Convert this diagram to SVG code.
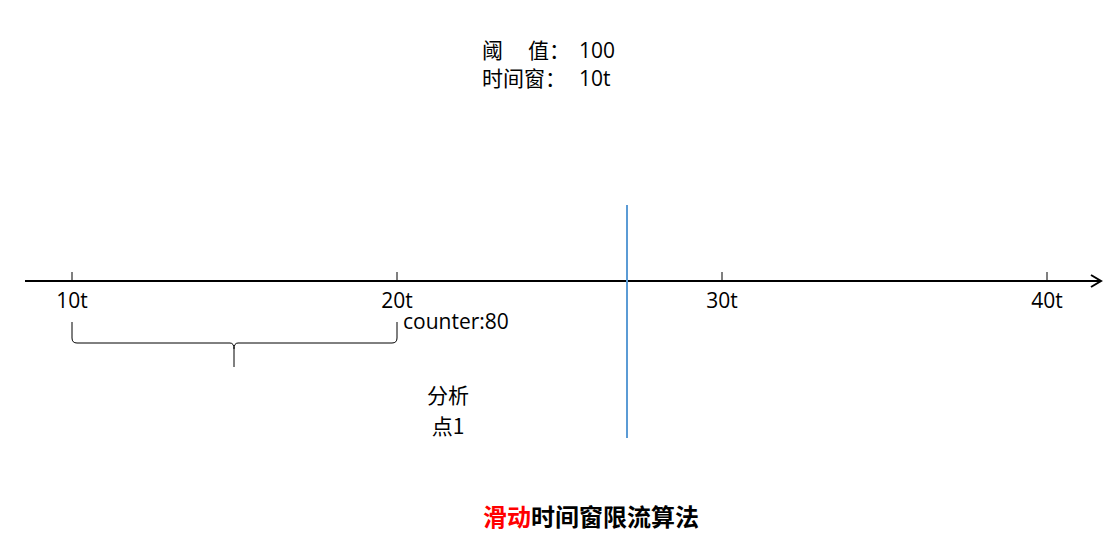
<svg xmlns="http://www.w3.org/2000/svg" width="1117" height="555" viewBox="0 0 1117 555">
<style>
.t{font-family:"Open Sans","Noto Sans CJK SC",sans-serif;font-size:21px;fill:#000}
.c{font-family:"Noto Sans CJK SC",sans-serif;font-size:21px;fill:#000}
.ln{stroke:#000;fill:none}
</style>
<rect width="1117" height="555" fill="#fff"/>
<g id="header">
<text class="c" x="482" y="58">阈</text>
<text class="c" x="528" y="58">值：</text>
<text class="t" x="579" y="58">100</text>
<text class="c" x="482" y="86">时间窗：</text>
<text class="t" x="579" y="86">10t</text>
</g>
<g id="connectors">
<line class="ln" x1="25" y1="281" x2="1100" y2="281" stroke-width="2"/>
<polyline class="ln" points="1091,275 1101,281 1091,287" stroke-width="2"/>
<line class="ln" x1="72" y1="272" x2="72" y2="281"/>
<line class="ln" x1="397" y1="272" x2="397" y2="281"/>
<line class="ln" x1="722" y1="272" x2="722" y2="281"/>
<line class="ln" x1="1047" y1="272" x2="1047" y2="281"/>
<path class="ln" d="M72,322 V338 Q72,343 77,343 H230 Q234,343 234,349 V367 M234,349 Q234,343 238,343 H392 Q397,343 397,338 V322"/>
<line x1="627" y1="205" x2="627" y2="438" stroke="#5B9BD5" stroke-width="2"/>
</g>
<g id="labels">
<text class="t" x="72" y="308" text-anchor="middle">10t</text>
<text class="t" x="397" y="308" text-anchor="middle">20t</text>
<text class="t" x="722" y="308" text-anchor="middle">30t</text>
<text class="t" x="1047" y="308" text-anchor="middle">40t</text>
<text class="t" x="403" y="329">counter:80</text>
</g>
<g id="analysis">
<text class="c" x="448" y="403" text-anchor="middle">分析</text>
<text class="c" x="448" y="434" text-anchor="middle">点1</text>
</g>
<g id="title">
<text x="591" y="526" text-anchor="middle" font-family="Noto Sans CJK SC,sans-serif" font-size="24" font-weight="bold"><tspan fill="#ff0000">滑动</tspan><tspan fill="#000">时间窗限流算法</tspan></text>
</g>
</svg>
